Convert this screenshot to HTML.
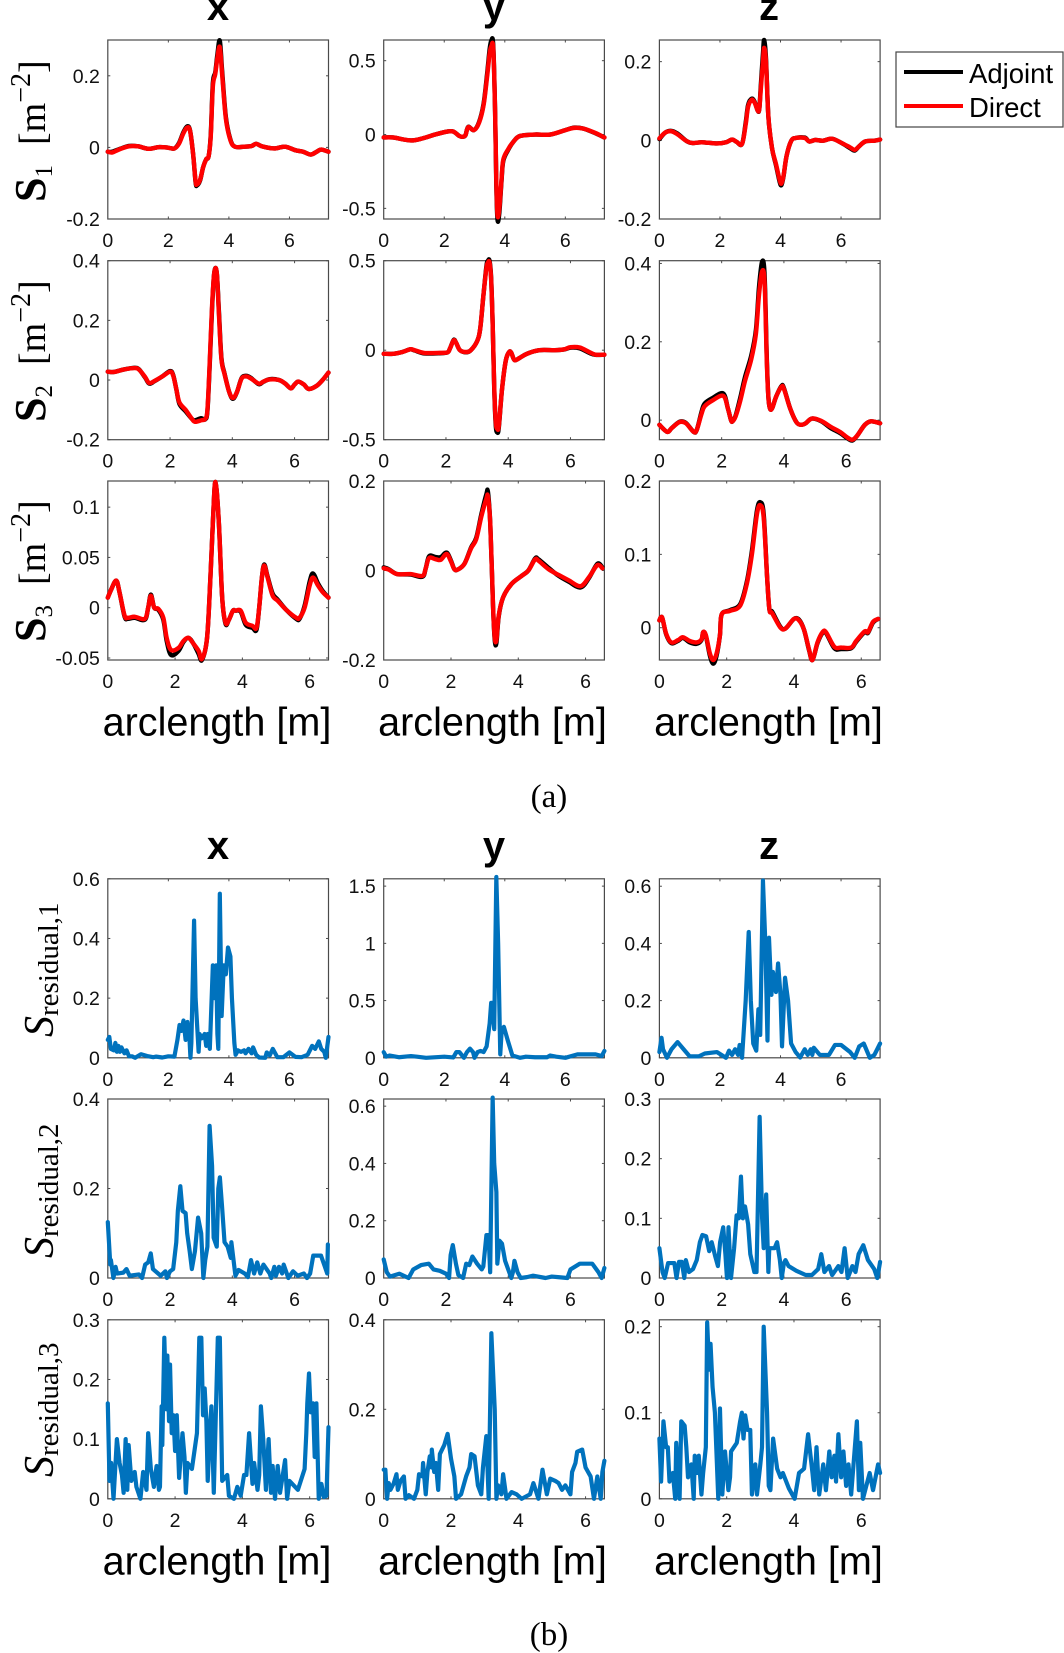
<!DOCTYPE html>
<html lang="en">
<head>
<meta charset="utf-8">
<title>Adjoint vs direct source terms along arclength</title>
<style>
html,body{margin:0;padding:0;background:#fff;}
svg{display:block;filter:blur(0.35px);}
text{fill:#000;}
.tick-label{font-family:"Liberation Sans",sans-serif;font-size:19.5px;fill:#111;}
.x-title{font-family:"Liberation Sans",sans-serif;font-size:39.6px;}
.col-title{font-family:"Liberation Sans",sans-serif;font-size:40px;font-weight:bold;}
.serif{font-family:"Liberation Serif",serif;}
</style>
</head>
<body>
<svg id="figure" xmlns="http://www.w3.org/2000/svg" width="1064" height="1653" viewBox="0 0 1064 1653">
<rect x="0" y="0" width="1064" height="1653" fill="#fff"/>
<g id="panels"></g>

<text class="col-title" x="218" y="20" text-anchor="middle">x</text>
<text class="col-title" x="494" y="20" text-anchor="middle">y</text>
<text class="col-title" x="769" y="20" text-anchor="middle">z</text>
<text class="col-title" x="218" y="859" text-anchor="middle">x</text>
<text class="col-title" x="494" y="859" text-anchor="middle">y</text>
<text class="col-title" x="769" y="859" text-anchor="middle">z</text>

<text class="serif" transform="translate(45,202) rotate(-90)" font-size="38"><tspan font-weight="bold" font-size="44">S</tspan><tspan font-size="25" dy="7">1</tspan><tspan dx="20" dy="-7">[m</tspan><tspan font-size="28" dy="-15">−2</tspan><tspan dy="15">]</tspan></text>
<text class="serif" transform="translate(45,422) rotate(-90)" font-size="38"><tspan font-weight="bold" font-size="44">S</tspan><tspan font-size="25" dy="7">2</tspan><tspan dx="20" dy="-7">[m</tspan><tspan font-size="28" dy="-15">−2</tspan><tspan dy="15">]</tspan></text>
<text class="serif" transform="translate(45,642) rotate(-90)" font-size="38"><tspan font-weight="bold" font-size="44">S</tspan><tspan font-size="25" dy="7">3</tspan><tspan dx="20" dy="-7">[m</tspan><tspan font-size="28" dy="-15">−2</tspan><tspan dy="15">]</tspan></text>

<text class="serif" transform="translate(53,1037) rotate(-90)" font-size="29"><tspan font-style="italic" font-size="42">S</tspan><tspan dy="5">residual,1</tspan></text>
<text class="serif" transform="translate(53,1258) rotate(-90)" font-size="29"><tspan font-style="italic" font-size="42">S</tspan><tspan dy="5">residual,2</tspan></text>
<text class="serif" transform="translate(53,1477) rotate(-90)" font-size="29"><tspan font-style="italic" font-size="42">S</tspan><tspan dy="5">residual,3</tspan></text>

<text class="x-title" x="217" y="735.5" text-anchor="middle">arclength [m]</text>
<text class="x-title" x="492.500" y="735.5" text-anchor="middle">arclength [m]</text>
<text class="x-title" x="768.500" y="735.5" text-anchor="middle">arclength [m]</text>
<text class="x-title" x="217" y="1574.5" text-anchor="middle">arclength [m]</text>
<text class="x-title" x="492.500" y="1574.5" text-anchor="middle">arclength [m]</text>
<text class="x-title" x="768.500" y="1574.5" text-anchor="middle">arclength [m]</text>

<text class="serif" x="549" y="807" font-size="33" text-anchor="middle">(a)</text>
<text class="serif" x="549" y="1645" font-size="33" text-anchor="middle">(b)</text>

<g>
<rect x="896" y="52" width="167" height="75" fill="#fff" stroke="#444" stroke-width="1.2"/>
<line x1="904" x2="963" y1="72" y2="72" stroke="#000" stroke-width="4"/>
<text x="969" y="83" font-family="Liberation Sans, sans-serif" font-size="27.500">Adjoint</text>
<line x1="904" x2="963" y1="106" y2="106" stroke="#ff0000" stroke-width="4"/>
<text x="969" y="117" font-family="Liberation Sans, sans-serif" font-size="27.500">Direct</text>
</g>
</svg>

<script>
// ---- Tick values ----
const xTicks = [0, 2, 4, 6];
const s1xTicks = [-0.2, 0, 0.2];
const s1yTicks = [-0.5, 0, 0.5];
const s1zTicks = [-0.2, 0, 0.2];
const s2xTicks = [-0.2, 0, 0.2, 0.4];
const s2yTicks = [-0.5, 0, 0.5];
const s2zTicks = [0, 0.2, 0.4];
const s3xTicks = [-0.05, 0, 0.05, 0.1];
const s3yTicks = [-0.2, 0, 0.2];
const s3zTicks = [0, 0.1, 0.2];
const r1xTicks = [0, 0.2, 0.4, 0.6];
const r1yTicks = [0, 0.5, 1, 1.5];
const r1zTicks = [0, 0.2, 0.4, 0.6];
const r2xTicks = [0, 0.2, 0.4];
const r2yTicks = [0, 0.2, 0.4, 0.6];
const r2zTicks = [0, 0.1, 0.2, 0.3];
const r3xTicks = [0, 0.1, 0.2, 0.3];
const r3yTicks = [0, 0.2, 0.4];
const r3zTicks = [0, 0.1, 0.2];

// ---- S1 ----
const s1xArc = [0,.15,.4,.7,1,1.35,1.7,2,2.2,2.35,2.5,2.63,2.72,2.82,2.9,2.95,3.05,3.15,3.25,3.33,3.4,3.47,3.55,3.62,3.7,3.78,3.9,4.05,4.2,4.5,4.75,4.9,5.1,5.5,5.85,6.2,6.45,6.7,6.9,7.05,7.29];
const s1xAdjoint = [-.012,-.012,-.004,.004,.003,-.004,.001,-.001,-.003,.012,.043,.059,.046,-.02,-.098,-.106,-.092,-.055,-.033,-.025,.035,.18,.21,.26,.298,.21,.085,.022,.002,.002,.004,.01,.003,-.003,.002,-.008,-.012,-.02,-.012,-.006,-.012];
const s1xDirect = [-.012,-.014,-.005,.003,.003,-.004,.001,-.001,-.003,.01,.04,.056,.045,-.02,-.095,-.103,-.09,-.055,-.033,-.025,.03,.17,.205,.25,.28,.2,.08,.02,.002,.002,.004,.01,.003,-.003,.002,-.008,-.012,-.02,-.012,-.006,-.012];

const s1yArc = [0,.3,.9,1.3,1.7,2.1,2.3,2.5,2.6,2.7,2.79,2.98,3.15,3.3,3.42,3.5,3.56,3.62,3.68,3.72,3.76,3.82,3.89,3.95,4.11,4.28,4.5,5,5.5,6,6.3,6.6,7,7.29];
const s1yAdjoint = [-.02,-.02,-.04,-.025,0,.02,.02,-.01,-.015,-.005,.052,.03,.085,.21,.42,.58,.64,.6,.15,-.35,-.58,-.53,-.32,-.18,-.105,-.05,-.01,0,0,.03,.047,.04,.008,-.02];
const s1yDirect = [-.02,-.02,-.04,-.025,0,.02,.02,-.01,-.015,-.005,.05,.03,.08,.2,.4,.55,.6,.58,.15,-.32,-.55,-.5,-.31,-.17,-.1,-.05,-.01,0,0,.03,.045,.04,.01,-.02];

const s1zArc = [0,.2,.4,.6,.9,1.1,1.4,1.9,2.2,2.4,2.55,2.73,2.85,2.93,3.05,3.15,3.25,3.3,3.35,3.42,3.46,3.52,3.6,3.72,3.85,3.97,4.03,4.1,4.2,4.35,4.5,4.8,4.95,5.15,5.4,5.7,6,6.3,6.45,6.6,6.8,7.1,7.29];
const s1zAdjoint = [.003,.02,.024,.017,-.002,-.007,-.005,-.008,-.005,.002,-.004,-.009,.045,.09,.106,.097,.075,.08,.14,.22,.255,.21,.06,-.02,-.063,-.105,-.114,-.092,-.04,-.002,.006,.007,-.003,.001,-.001,.004,-.006,-.02,-.026,-.015,-.003,-.001,.002];
const s1zDirect = [.005,.02,.023,.015,-.002,-.007,-.005,-.008,-.005,.002,-.004,-.009,.04,.085,.103,.095,.075,.08,.13,.2,.235,.2,.06,-.02,-.06,-.1,-.11,-.09,-.04,-.002,.006,.006,-.003,.001,-.001,.004,-.006,-.018,-.024,-.015,-.003,-.001,.002];

// ---- S2 ----
const s2xArc = [0,.2,.5,.85,1,1.2,1.33,1.5,1.75,2,2.1,2.2,2.3,2.5,2.7,2.8,3,3.13,3.2,3.27,3.35,3.42,3.5,3.57,3.65,3.75,3.9,4.02,4.15,4.3,4.45,4.6,4.85,5,5.2,5.5,5.7,5.88,6,6.12,6.3,6.45,6.7,6.9,7.09];
const s2xAdjoint = [.028,.027,.035,.041,.036,.008,-.012,-.004,.012,.03,.017,-.03,-.08,-.105,-.13,-.135,-.128,-.132,-.105,.04,.24,.36,.36,.23,.075,.022,-.04,-.063,-.04,.007,.014,.007,-.014,-.006,.003,0,-.012,-.028,-.015,-.005,-.015,-.03,-.02,0,.025];
const s2xDirect = [.028,.027,.035,.04,.035,.01,-.01,-.003,.012,.028,.015,-.03,-.075,-.1,-.13,-.14,-.135,-.13,-.1,.05,.25,.36,.36,.22,.07,.02,-.04,-.06,-.04,.005,.012,.005,-.012,-.005,.002,0,-.012,-.028,-.015,-.005,-.015,-.03,-.02,0,.025];

const s2yArc = [0,.3,.6,.85,1,1.3,1.8,2.05,2.13,2.25,2.33,2.45,2.65,2.8,3,3.1,3.2,3.3,3.35,3.4,3.45,3.5,3.55,3.6,3.65,3.7,3.8,3.92,4.03,4.1,4.2,4.35,4.6,5,5.5,5.8,6,6.3,6.6,6.8,7.09];
const s2yAdjoint = [-.02,-.02,-.01,.005,-.002,-.018,-.017,-.012,.01,.058,.04,0,-.012,0,.05,.12,.3,.47,.5,.5,.41,.15,-.21,-.42,-.46,-.43,-.22,-.06,-.01,-.015,-.055,-.045,-.02,0,0,.004,.014,.01,-.015,-.026,-.025];
const s2yDirect = [-.02,-.02,-.01,.005,0,-.015,-.015,-.012,.01,.055,.04,0,-.01,0,.05,.12,.3,.46,.49,.49,.4,.15,-.2,-.4,-.44,-.42,-.22,-.06,-.01,-.015,-.055,-.045,-.02,0,0,.005,.017,.015,-.01,-.025,-.025];

const s2zArc = [0,.25,.4,.65,.85,1.1,1.2,1.35,1.45,1.7,2.05,2.2,2.3,2.35,2.45,2.6,2.75,2.95,3.1,3.2,3.3,3.38,3.45,3.5,3.55,3.62,3.75,3.92,4,4.2,4.4,4.55,4.7,4.9,5.2,5.5,5.8,6.05,6.2,6.35,6.6,6.8,7.09];
const s2zAdjoint = [-.012,-.03,-.02,-.004,-.007,-.03,-.025,.02,.042,.056,.068,.03,0,-.003,.012,.058,.11,.165,.23,.34,.405,.37,.16,.06,.03,.03,.06,.087,.082,.03,-.005,-.012,-.008,.004,-.003,-.02,-.033,-.047,-.052,-.04,-.012,-.003,-.008];
const s2zDirect = [-.012,-.03,-.02,-.005,-.008,-.03,-.025,.015,.035,.05,.062,.03,0,-.003,.01,.05,.1,.155,.22,.32,.38,.35,.15,.06,.03,.03,.06,.085,.08,.03,-.005,-.012,-.008,.004,-.002,-.017,-.03,-.045,-.05,-.04,-.012,-.003,-.008];

// ---- S3 ----
const s3xArc = [0,.1,.25,.35,.5,.6,.8,1.1,1.2,1.28,1.38,1.5,1.65,1.75,1.88,2.1,2.25,2.4,2.55,2.7,2.8,2.95,3.05,3.13,3.2,3.3,3.4,3.5,3.6,3.72,3.8,3.95,4.1,4.3,4.42,4.5,4.58,4.65,4.75,4.9,5.05,5.3,5.6,5.7,5.85,6,6.1,6.25,6.4,6.56];
const s3xAdjoint = [.01,.018,.027,.015,-.009,-.011,-.01,-.012,0,.013,0,-.002,-.012,-.033,-.047,-.043,-.034,-.03,-.036,-.046,-.052,-.03,.03,.09,.125,.085,.01,-.016,-.012,-.003,-.003,-.004,-.017,-.02,-.022,0,.03,.043,.031,.014,.008,-.002,-.011,-.011,.002,.026,.034,.024,.016,.01];
const s3xDirect = [.01,.018,.027,.015,-.008,-.01,-.009,-.011,0,.012,0,-.001,-.01,-.03,-.042,-.04,-.033,-.03,-.036,-.043,-.051,-.03,.03,.09,.125,.085,.01,-.015,-.012,-.003,-.003,-.003,-.015,-.018,-.02,0,.03,.042,.03,.012,.007,-.002,-.01,-.01,0,.022,.03,.022,.015,.01];

const s3yArc = [0,.15,.4,.8,1.15,1.25,1.35,1.55,1.7,1.87,2,2.1,2.2,2.4,2.6,2.75,2.9,3.05,3.1,3.17,3.25,3.3,3.35,3.42,3.55,3.8,4.1,4.3,4.5,4.6,4.9,5.2,5.5,5.85,6.1,6.35,6.5];
const s3yAdjoint = [.007,.003,-.008,-.009,-.014,.005,.032,.03,.03,.04,.022,.003,.002,.015,.052,.073,.125,.17,.175,.1,-.08,-.155,-.162,-.102,-.06,-.03,-.012,0,.027,.025,.006,-.012,-.025,-.038,-.017,.015,.007];
const s3yDirect = [.005,.002,-.008,-.008,-.012,.005,.028,.025,.024,.037,.02,.003,.002,.015,.05,.07,.12,.16,.165,.1,-.08,-.15,-.155,-.1,-.06,-.03,-.012,0,.025,.022,.003,-.01,-.022,-.035,-.015,.012,.005];

const s3zArc = [0,.08,.2,.35,.55,.7,.9,1.1,1.25,1.3,1.38,1.5,1.6,1.7,1.8,1.85,2.1,2.4,2.6,2.75,2.9,3,3.1,3.2,3.27,3.35,3.6,3.75,4,4.15,4.3,4.45,4.55,4.7,4.85,4.95,5.2,5.4,5.7,5.85,6.1,6.2,6.35,6.5];
const s3zAdjoint = [.01,.014,-.009,-.021,-.018,-.014,-.02,-.022,-.017,-.006,-.011,-.038,-.049,-.038,-.01,.018,.024,.032,.063,.105,.16,.171,.155,.07,.025,.022,.001,-.001,.012,.011,-.003,-.031,-.044,-.021,-.007,-.007,-.028,-.029,-.028,-.019,-.006,-.007,.007,.012];
const s3zDirect = [.01,.014,-.008,-.02,-.017,-.013,-.018,-.02,-.016,-.006,-.01,-.035,-.044,-.035,-.01,.018,.023,.03,.06,.1,.155,.167,.15,.07,.025,.02,0,-.001,.012,.01,-.003,-.03,-.044,-.02,-.006,-.006,-.026,-.027,-.027,-.018,-.005,-.006,.008,.012];

// ---- S residual 1 ----
const r1xArc = [0,.05,.1,.2,.25,.3,.35,.4,.45,.55,.62,.7,.8,.9,1.1,1.3,1.5,1.6,1.8,2,2.2,2.3,2.37,2.43,2.5,2.57,2.63,2.7,2.73,2.76,2.85,2.9,3,3.03,3.1,3.2,3.25,3.3,3.37,3.47,3.52,3.58,3.62,3.65,3.7,3.76,3.83,3.9,3.97,4.05,4.1,4.18,4.22,4.3,4.4,4.5,4.55,4.65,4.75,4.8,4.9,5,5.2,5.25,5.35,5.45,5.6,5.8,6,6.2,6.4,6.6,6.75,6.85,6.97,7.05,7.15,7.2,7.29];
const r1xValues = [.06,.07,.03,.025,.05,.02,.04,.02,.035,.015,.025,.005,.005,0,.012,.006,.002,.004,.001,.005,.004,.06,.11,.09,.125,.06,.12,.06,0,.05,.46,.2,.02,.08,.065,.08,.04,.08,.03,.31,.2,.31,.08,.03,.55,.14,.31,.28,.37,.34,.2,.05,.01,.025,.02,.025,.015,.03,.015,.035,.01,.001,0,.018,.008,.03,.002,.002,.018,.003,.002,.01,.04,.03,.055,.03,.02,0,.07];

const r1yArc = [0,.08,.2,.5,.9,1.1,1.4,2,2.3,2.4,2.5,2.65,2.75,2.85,2.95,3,3.1,3.2,3.3,3.4,3.5,3.55,3.6,3.65,3.72,3.78,3.85,3.9,3.97,4.1,4.25,4.5,4.7,5,5.4,5.5,5.7,6,6.4,7,7.2,7.29];
const r1yValues = [.05,.01,.02,.005,.015,.01,0,.01,.003,.05,.05,0,.05,.08,.05,0,.05,.06,.05,.1,.3,.48,.48,.25,1.58,1,.03,.25,.27,.15,.02,0,.01,.005,.005,.02,.01,0,.03,.03,.015,.06];

const r1zArc = [0,.07,.12,.25,.4,.6,.8,1,1.3,1.5,1.9,2.2,2.3,2.4,2.5,2.6,2.65,2.73,2.85,2.95,3.02,3.1,3.2,3.27,3.33,3.42,3.5,3.57,3.62,3.7,3.75,3.85,3.92,4,4.05,4.15,4.25,4.35,4.5,4.65,4.8,4.9,5,5.05,5.1,5.3,5.6,5.8,6,6.3,6.45,6.6,6.75,6.95,7.1,7.29];
const r1zValues = [.02,.07,.03,0,.03,.055,.03,.005,.005,.015,.02,0,.025,.01,.03,.01,.045,0,.2,.44,.2,.05,.025,.17,.08,.62,.4,.06,.42,.22,.3,.23,.33,.22,.04,.28,.2,.05,.02,.001,.03,.01,.03,.01,.035,.01,.01,.045,.045,.02,0,.04,.05,0,.01,.05];

// ---- S residual 2 ----
const r2xArc = [0,.08,.1,.18,.25,.3,.5,.6,.7,1,1.1,1.2,1.3,1.38,1.45,1.7,1.85,1.9,2,2.1,2.2,2.25,2.33,2.4,2.5,2.55,2.63,2.7,2.8,2.9,3,3.07,3.13,3.2,3.27,3.35,3.4,3.5,3.55,3.6,3.67,3.75,3.85,3.95,3.97,4.1,4.2,4.4,4.5,4.6,4.7,4.8,4.9,5,5.2,5.25,5.35,5.4,5.5,5.6,5.65,5.8,5.95,6.1,6.3,6.4,6.5,6.6,6.85,6.95,7.05,7.07];
const r2xValues = [.125,.03,.04,0,.025,.01,.012,.02,.005,.008,0,.03,.035,.055,.02,.005,.015,0,.015,.02,.08,.15,.205,.15,.145,.1,.06,.02,.06,.135,.1,0,.04,.07,.34,.25,.09,.07,.2,.225,.16,.08,.07,.045,.08,.005,.018,.01,.002,.04,.01,.035,.01,.03,.01,0,.025,.005,.025,.01,.03,0,.015,.005,.01,0,.01,.05,.05,.03,.01,.075];

const r2yArc = [0,.1,.2,.5,.8,.95,1.2,1.45,1.6,1.8,2,2.1,2.15,2.22,2.32,2.4,2.55,2.65,2.75,2.85,3,3.15,3.2,3.3,3.37,3.42,3.5,3.55,3.62,3.65,3.72,3.8,3.9,4,4.1,4.15,4.2,4.3,4.4,4.6,4.8,5.2,5.4,5.6,5.9,6,6.3,6.7,6.9,7,7.09];
const r2yValues = [.065,.02,.005,.015,0,.03,.045,.05,.03,.025,.015,0,.08,.115,.05,.01,0,.05,.045,.075,.05,.03,.04,.15,.15,.02,.63,.4,.3,.05,.13,.12,.06,.03,0,.02,.06,.02,0,.003,.008,0,.005,.003,0,.03,.05,.05,.02,0,.035];

const r2zArc = [0,.1,.17,.28,.48,.55,.63,.72,.8,.85,.95,1.08,1.2,1.3,1.38,1.5,1.6,1.68,1.8,1.88,1.95,2.05,2.12,2.17,2.22,2.3,2.4,2.48,2.55,2.62,2.68,2.75,2.85,2.92,3.05,3.12,3.22,3.3,3.35,3.43,3.5,3.53,3.7,3.78,3.87,3.93,4,4.05,4.15,4.4,4.7,4.9,5.1,5.2,5.3,5.45,5.55,5.75,5.85,5.95,6.05,6.2,6.3,6.4,6.55,6.7,6.9,7,7.09];
const r2zValues = [.05,.01,0,.025,.025,0,.027,.027,0,.03,.01,.015,.03,.06,.072,.07,.045,.06,.035,.02,.06,.085,.04,0,.085,0,.05,.105,.1,.17,.1,.12,.09,.04,.01,.01,.27,.1,.05,.14,.01,.05,.05,.06,.03,0,.025,.03,.02,.012,.005,.005,.015,.04,.01,.02,.005,.02,.01,.05,0,.02,.01,.04,.055,.03,.015,0,.027];

// ---- S residual 3 ----
const r3xArc = [0,.05,.1,.17,.27,.35,.42,.47,.53,.58,.62,.7,.8,.85,.97,1.05,1.15,1.2,1.28,1.37,1.45,1.52,1.55,1.6,1.62,1.68,1.74,1.77,1.82,1.85,1.9,1.95,2,2.05,2.12,2.22,2.28,2.32,2.37,2.5,2.65,2.72,2.78,2.83,2.88,2.93,2.97,3.05,3.08,3.15,3.27,3.33,3.4,3.55,3.6,3.75,3.85,3.95,4.05,4.12,4.2,4.3,4.35,4.45,4.5,4.55,4.62,4.7,4.78,4.85,4.9,4.97,5.05,5.12,5.27,5.33,5.4,5.65,5.85,5.9,5.93,5.98,6.03,6.1,6.15,6.2,6.27,6.35,6.42,6.5,6.56];
const r3xValues = [.16,.03,.06,0,.1,.06,.04,.01,.1,.015,.09,.03,.045,.02,0,.045,.015,.11,.05,.02,.055,.015,.02,.155,.09,.27,.15,.24,.13,.225,.11,.14,.08,.14,.035,.11,.07,.01,.06,.05,.11,.27,.27,.14,.185,.13,.03,.13,.155,.01,.27,.27,.03,.04,.005,0,.02,.005,.04,.04,.11,.025,.06,.015,.04,.155,.1,.015,.1,.01,.055,0,.055,.01,.065,0,.03,.015,.05,.11,.16,.21,.145,.16,.07,.16,0,.025,.003,.005,.12];

const r3yArc = [0,.05,.1,.15,.2,.3,.38,.42,.5,.6,.65,.75,.9,1,1.05,1.15,1.17,1.25,1.3,1.37,1.42,1.43,1.5,1.55,1.62,1.67,1.8,1.9,2,2.1,2.15,2.3,2.45,2.55,2.6,2.7,2.8,2.9,2.95,3.05,3.12,3.2,3.3,3.35,3.4,3.5,3.55,3.65,3.8,3.95,4.1,4.35,4.45,4.6,4.72,4.85,4.95,5.1,5.2,5.3,5.4,5.55,5.6,5.7,5.75,5.9,6,6.15,6.25,6.35,6.45,6.5,6.56];
const r3yValues = [.065,.065,0,.035,.02,.035,.055,.02,.04,.05,0,.008,0,.02,.055,.05,.08,.01,.06,.095,.07,.11,.06,.08,.02,.1,.12,.145,.09,.05,0,.01,.05,.07,.1,.095,.03,.01,.07,.14,0,.37,.2,0,.03,.01,.055,0,.015,.01,0,.01,.035,0,.065,.01,.045,.04,.035,.02,.03,.01,.06,.08,.105,.11,.07,.05,0,.05,0,.06,.085];

const r3zArc = [0,.05,.12,.2,.25,.3,.4,.47,.5,.6,.65,.75,.8,.85,.95,1.02,1.05,1.12,1.17,1.25,1.3,1.38,1.42,1.48,1.52,1.58,1.65,1.75,1.8,1.87,1.95,2.05,2.1,2.13,2.3,2.4,2.45,2.5,2.55,2.62,2.7,2.75,2.85,2.9,3,3.05,3.1,3.2,3.25,3.3,3.38,3.5,3.6,3.67,3.85,4.02,4.15,4.3,4.42,4.55,4.6,4.67,4.75,4.87,4.95,5.05,5.12,5.2,5.25,5.32,5.4,5.47,5.55,5.62,5.7,5.87,5.93,5.97,6.05,6.15,6.25,6.35,6.5,6.56];
const r3zValues = [.07,.02,.09,.06,.06,.02,.03,0,.065,0,.09,.085,.06,.025,.04,0,.05,.03,.05,.005,.03,.06,.205,.15,.18,.13,.1,0,.105,.005,.055,.01,.025,.055,.065,.09,.1,.07,.097,.08,.08,.005,.04,.005,.04,.06,.2,.1,.015,.01,.07,.035,.025,.03,.012,0,.03,.035,.075,.03,.01,.06,.005,.04,.01,.055,.025,.05,.02,.075,.025,.055,.015,.04,.005,.09,.01,.065,0,.015,.03,.01,.04,.03];

// ---- Panel definitions: axis limits plus references to the data arrays ----
const sourceRows = [
  [
    {id:'s1-x', xMax:7.29, yMin:-0.2, yMax:0.3, yTicks:s1xTicks, arc:s1xArc, adjoint:s1xAdjoint, direct:s1xDirect},
    {id:'s1-y', xMax:7.29, yMin:-0.572, yMax:0.64, yTicks:s1yTicks, arc:s1yArc, adjoint:s1yAdjoint, direct:s1yDirect},
    {id:'s1-z', xMax:7.29, yMin:-0.2, yMax:0.255, yTicks:s1zTicks, arc:s1zArc, adjoint:s1zAdjoint, direct:s1zDirect}
  ],
  [
    {id:'s2-x', xMax:7.09, yMin:-0.2, yMax:0.4, yTicks:s2xTicks, arc:s2xArc, adjoint:s2xAdjoint, direct:s2xDirect},
    {id:'s2-y', xMax:7.09, yMin:-0.5, yMax:0.5, yTicks:s2yTicks, arc:s2yArc, adjoint:s2yAdjoint, direct:s2yDirect},
    {id:'s2-z', xMax:7.09, yMin:-0.05, yMax:0.407, yTicks:s2zTicks, arc:s2zArc, adjoint:s2zAdjoint, direct:s2zDirect}
  ],
  [
    {id:'s3-x', xMax:6.56, yMin:-0.052, yMax:0.126, yTicks:s3xTicks, arc:s3xArc, adjoint:s3xAdjoint, direct:s3xDirect},
    {id:'s3-y', xMax:6.56, yMin:-0.2, yMax:0.2, yTicks:s3yTicks, arc:s3yArc, adjoint:s3yAdjoint, direct:s3yDirect},
    {id:'s3-z', xMax:6.56, yMin:-0.044, yMax:0.2, yTicks:s3zTicks, arc:s3zArc, adjoint:s3zAdjoint, direct:s3zDirect}
  ]
];
const residualRows = [
  [
    {id:'r1-x', xMax:7.29, yMin:0, yMax:0.6, yTicks:r1xTicks, arc:r1xArc, values:r1xValues},
    {id:'r1-y', xMax:7.29, yMin:0, yMax:1.564, yTicks:r1yTicks, arc:r1yArc, values:r1yValues},
    {id:'r1-z', xMax:7.29, yMin:0, yMax:0.626, yTicks:r1zTicks, arc:r1zArc, values:r1zValues}
  ],
  [
    {id:'r2-x', xMax:7.09, yMin:0, yMax:0.4, yTicks:r2xTicks, arc:r2xArc, values:r2xValues},
    {id:'r2-y', xMax:7.09, yMin:0, yMax:0.625, yTicks:r2yTicks, arc:r2yArc, values:r2yValues},
    {id:'r2-z', xMax:7.09, yMin:0, yMax:0.3, yTicks:r2zTicks, arc:r2zArc, values:r2zValues}
  ],
  [
    {id:'r3-x', xMax:6.56, yMin:0, yMax:0.3, yTicks:r3xTicks, arc:r3xArc, values:r3xValues},
    {id:'r3-y', xMax:6.56, yMin:0, yMax:0.4, yTicks:r3yTicks, arc:r3yArc, values:r3yValues},
    {id:'r3-z', xMax:6.56, yMin:0, yMax:0.208, yTicks:r3zTicks, arc:r3zArc, values:r3zValues}
  ]
];

// ---- Layout ----
const SVG_NS = 'http://www.w3.org/2000/svg';
const root = document.getElementById('panels');
const plotWidth = 220.7;
const plotHeight = 179;
function colLeft(c) { return [107.8, 383.7, 659.4][c]; }
function rowTopA(r) { return [40, 260.7, 481][r]; }
function rowTopB(r) { return [878.8, 1099, 1319.8][r]; }

function make(tag, parent, attrs) {
  const node = document.createElementNS(SVG_NS, tag);
  for (const key in attrs) node.setAttribute(key, attrs[key]);
  parent.appendChild(node);
  return node;
}

function linePath(arc, vals, sx, sy) {
  return arc.map((a, i) => (i ? 'L' : 'M') + sx(a).toFixed(2) + ' ' + sy(vals[i]).toFixed(2)).join('');
}

function smoothPath(arc, vals, sx, sy) {
  const pts = arc.map((a, i) => [sx(a), sy(vals[i])]);
  let d = 'M' + pts[0][0].toFixed(2) + ' ' + pts[0][1].toFixed(2);
  for (let i = 0; i < pts.length - 1; i++) {
    const p0 = pts[Math.max(i - 1, 0)], p1 = pts[i], p2 = pts[i + 1], p3 = pts[Math.min(i + 2, pts.length - 1)];
    const c1x = p1[0] + (p2[0] - p0[0]) / 6, c1y = p1[1] + (p2[1] - p0[1]) / 6;
    const c2x = p2[0] - (p3[0] - p1[0]) / 6, c2y = p2[1] - (p3[1] - p1[1]) / 6;
    d += 'C' + c1x.toFixed(2) + ' ' + c1y.toFixed(2) + ' ' + c2x.toFixed(2) + ' ' + c2y.toFixed(2) + ' ' + p2[0].toFixed(2) + ' ' + p2[1].toFixed(2);
  }
  return d;
}

function drawAxes(panel, left, top) {
  const right = left + plotWidth, bottom = top + plotHeight;
  const sx = v => left + (v / panel.xMax) * plotWidth;
  const sy = v => bottom - ((v - panel.yMin) / (panel.yMax - panel.yMin)) * plotHeight;
  const g = make('g', root, {});
  
  

  const box = make('rect', g, {x:left, y:top, width:plotWidth, height:plotHeight, fill:'#fff', stroke:'#4a4a4a', 'stroke-width':1.2});
  
  

  xTicks.forEach(t => {
    const px = sx(t);
    if (t > 0) {
      const tickB = make('line', g, {x1:px, x2:px, y1:bottom, y2:bottom - 2.5, stroke:'#4a4a4a', 'stroke-width':1});
      
      
      const tickT = make('line', g, {x1:px, x2:px, y1:top, y2:top + 2.5, stroke:'#4a4a4a', 'stroke-width':1});
      
      
    }
    const label = make('text', g, {x:px, y:bottom + 28, 'text-anchor':'middle', class:'tick-label'});
    label.textContent = String(t);
    
    
  });

  panel.yTicks.forEach(t => {
    const py = sy(t);
    const tickL = make('line', g, {x1:left, x2:left + 2.5, y1:py, y2:py, stroke:'#4a4a4a', 'stroke-width':1});
    
    
    const tickR = make('line', g, {x1:right, x2:right - 2.5, y1:py, y2:py, stroke:'#4a4a4a', 'stroke-width':1});
    
    
    const label = make('text', g, {x:left - 8, y:py + 7, 'text-anchor':'end', class:'tick-label'});
    label.textContent = String(t);
    
    
  });
  return {g, sx, sy};
}

sourceRows.forEach((row, r) => row.forEach((panel, c) => {
  const {g, sx, sy} = drawAxes(panel, colLeft(c), rowTopA(r));
  const adjointLine = make('path', g, {d:smoothPath(panel.arc, panel.adjoint, sx, sy), fill:'none', stroke:'#000', 'stroke-width':4.4, 'stroke-linejoin':'round', 'stroke-linecap':'round'});
  
  
  const directLine = make('path', g, {d:smoothPath(panel.arc, panel.direct, sx, sy), fill:'none', stroke:'#ff0000', 'stroke-width':4.4, 'stroke-linejoin':'round', 'stroke-linecap':'round'});
  
  
}));

residualRows.forEach((row, r) => row.forEach((panel, c) => {
  const {g, sx, sy} = drawAxes(panel, colLeft(c), rowTopB(r));
  const residualLine = make('path', g, {d:linePath(panel.arc, panel.values, sx, sy), fill:'none', stroke:'#0072bd', 'stroke-width':4.2, 'stroke-linejoin':'round', 'stroke-linecap':'round'});
  
  
}));
</script>
</body>
</html>
